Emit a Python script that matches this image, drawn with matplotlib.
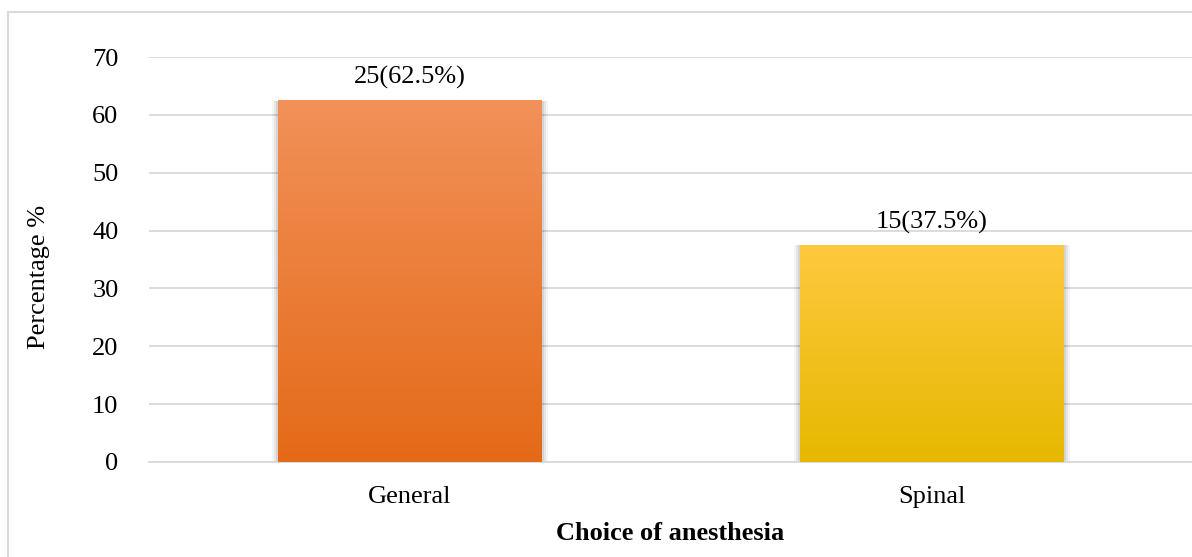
import numpy as np
import matplotlib.pyplot as plt
from matplotlib.colors import LinearSegmentedColormap
from matplotlib.patches import Rectangle

categories = ['General', 'Spinal']
counts = [25, 15]
percent = [62.5, 37.5]
yticks = [0, 10, 20, 30, 40, 50, 60, 70]

# top -> bottom gradient colours for each bar
grad_colors = [('#F29159', '#E46A18'), ('#FFC93F', '#E6B800')]

plt.rcParams['font.family'] = ['Liberation Serif', 'DejaVu Serif']
FS = 19

fig = plt.figure(figsize=(11.92, 5.57), dpi=100)
# light frame around the chart area
fig.patches.append(Rectangle((8 / 1192, -0.01), 1.0, 1 - 12 / 557 + 0.01,
                             transform=fig.transFigure, fill=False,
                             edgecolor='#D9D9D9', linewidth=1.5))

ax = fig.add_axes([149 / 1192, 1 - 462 / 557, 1044 / 1192, 405 / 557])

width = 0.504
x = np.arange(len(categories))
for xi, p, (ctop, cbot) in zip(x, percent, grad_colors):
    # soft shadow behind the bar
    for k, a in enumerate([0.04, 0.06, 0.08]):
        off = 0.012 - k * 0.004
        ax.add_patch(Rectangle((xi - width / 2 - off, 0 - 0.25), width + 2 * off, p + 0.2,
                               facecolor='black', alpha=a, edgecolor='none', zorder=2))
    bar = ax.bar(xi, p, width=width, color='none', edgecolor='none', zorder=3)[0]
    cmap = LinearSegmentedColormap.from_list('g', [cbot, ctop])
    grad = np.linspace(0, 1, 256).reshape(-1, 1)
    im = ax.imshow(grad, cmap=cmap, aspect='auto', origin='lower',
                   extent=(xi - width / 2, xi + width / 2, 0, p), zorder=3)
    im.set_clip_path(bar)
    ax.text(xi, p + 1.9, f'{counts[xi]}({p}%)', ha='center', va='bottom', fontsize=FS)

ax.set_xlim(-0.5, 1.5)
ax.set_ylim(0, 70)
ax.set_yticks(yticks)
ax.set_xticks(x)
ax.set_xticklabels(categories)
ax.tick_params(axis='both', length=0, labelsize=FS, colors='black')
ax.tick_params(axis='y', pad=22)
ax.tick_params(axis='x', pad=17)
ax.yaxis.grid(True, color='#D9D9D9', linewidth=1.3, zorder=0)
ax.set_axisbelow(True)
for s in ['top', 'right', 'left']:
    ax.spines[s].set_visible(False)
ax.spines['bottom'].set_color('#D9D9D9')
ax.spines['bottom'].set_linewidth(1.3)

ax.set_xlabel('Choice of anesthesia', fontsize=FS, fontweight='bold')
ax.xaxis.set_label_coords(521 / 1044, -(522 - 462) / 405)
ax.set_ylabel('Percentage %', fontsize=FS)
ax.yaxis.set_label_coords(-(149 - 50) / 1044, (462 - 277) / 405)

fig.savefig('out.png', dpi=100)
